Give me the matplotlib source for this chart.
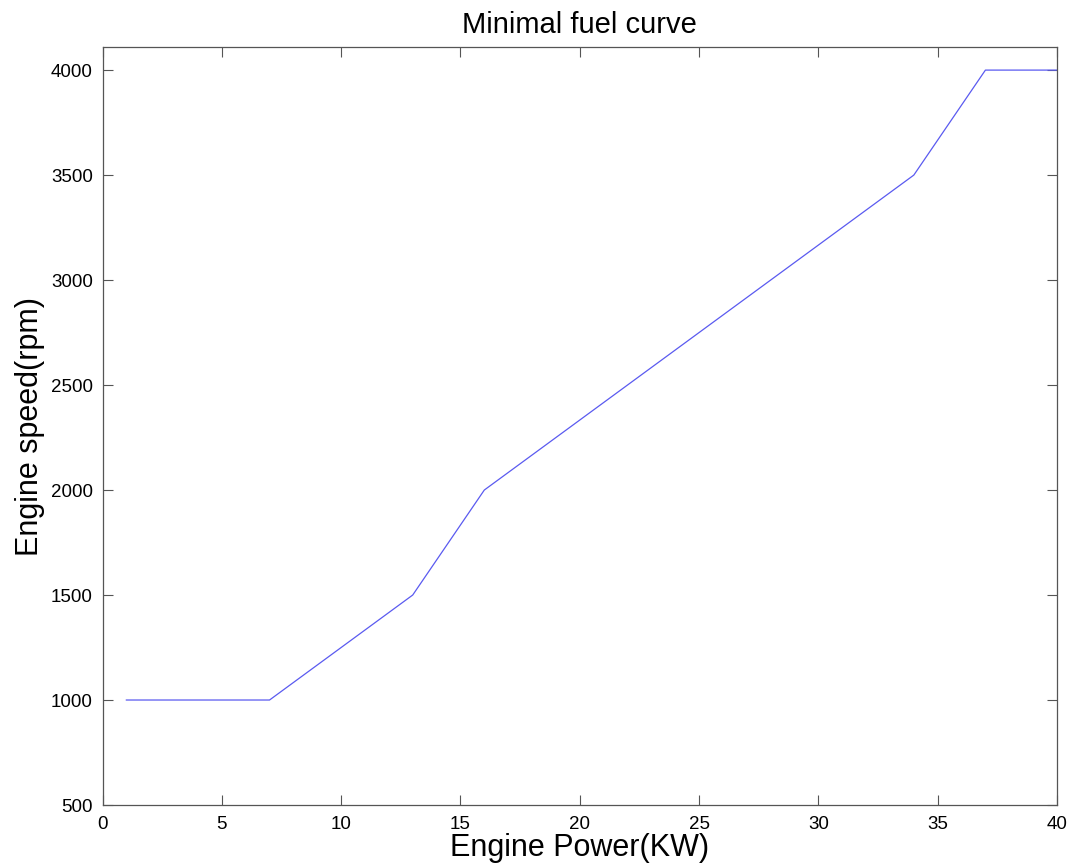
import matplotlib
matplotlib.use("Agg")
import matplotlib.pyplot as plt

power_kw = [1, 7, 13, 16, 34, 37, 40]
speed_rpm = [1000, 1000, 1500, 2000, 3500, 4000, 4000]
x_ticks = [0, 5, 10, 15, 20, 25, 30, 35, 40]
y_ticks = [500, 1000, 1500, 2000, 2500, 3000, 3500, 4000]

plt.rcParams['font.family'] = ['Liberation Sans', 'DejaVu Sans']
fig = plt.figure(figsize=(10.70, 8.67), dpi=100)
ax = fig.add_axes([102.5/1070, 1-805/867, (1057-102.5)/1070, (805-47)/867])
ax.plot(power_kw, speed_rpm, color='#5a5af0', lw=0.9)
ax.set_xlim(0, 40)
ax.set_ylim(500, 4110)
ax.set_xticks(x_ticks)
ax.set_yticks(y_ticks)
ax.tick_params(direction='in', top=True, right=True, labelsize=13.5, length=7, width=0.8, color='#555555')
ax.tick_params(axis='y', pad=7)
ax.tick_params(axis='x', pad=8)
for s in ax.spines.values():
    s.set_color('#555555')
    s.set_linewidth(0.9)
ax.set_title('Minimal fuel curve', fontsize=21, pad=10)
ax.set_xlabel('Engine Power(KW)', fontsize=22, labelpad=0)
ax.set_ylabel('Engine speed(rpm)', fontsize=22, labelpad=4)
fig.savefig('out.png', dpi=100)
